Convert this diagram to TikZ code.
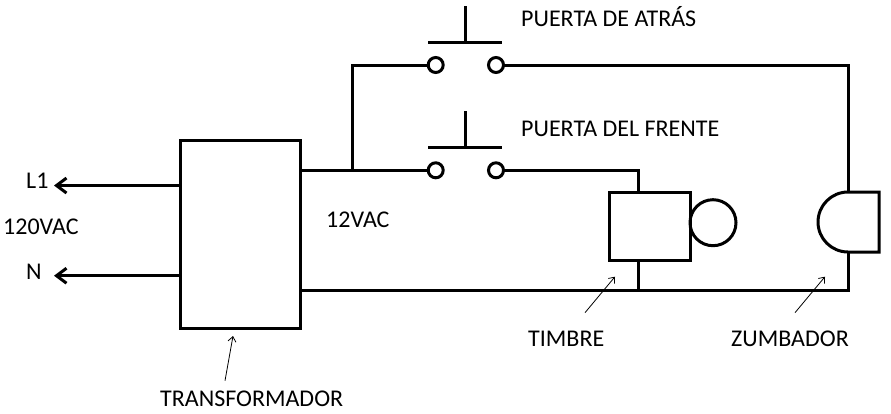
\documentclass[tikz,border=0pt]{standalone}
\usepackage{fontspec}
\setmainfont{Carlito}
\usetikzlibrary{positioning}
\usetikzlibrary{arrows.meta}
\tikzset{
    wire/.style={line width=3pt},
    box/.style={draw, line width=3pt, rectangle, outer sep=0pt, inner sep=0pt},
    contact/.style={draw, line width=3pt, circle, fill=white, minimum size=15pt, inner sep=0pt, outer sep=0pt},
    label/.style={inner sep=0pt, font=\fontsize{24pt}{28pt}\selectfont},
    pointer/.style={line width=0.8pt, -{Straight Barb[length=5pt,width=8pt]}},
    lead/.style={line width=3pt, -{Straight Barb[length=10pt,width=15pt]}}
}

\begin{document}
\begin{tikzpicture}[x=1pt,y=-1pt]

    \useasboundingbox (0,0) rectangle (891,413);

    % transformer with both sides
    \node[box, minimum width=120pt, minimum height=188pt] (trafo) at (240.5,234) {};
    \node[label, anchor=west] (l1) at (26,181) {L1};
    \node[label, anchor=west] (vin) at (3,227) {120VAC};
    \node[label, anchor=west] (n) at (26,272) {N};
    \node[label, anchor=west] (vout) at (326,220) {12VAC};
    \node[label, anchor=west] (ltrafo) at (160,399) {TRANSFORMADOR};

    \coordinate (l1end) at (54,185.5);
    \coordinate (nend) at (54,275.7);
    \draw[lead] (trafo.west |- l1end) -- (l1end);
    \draw[lead] (trafo.west |- nend) -- (nend);

    % ------------------

    % back door
    \node[contact] (ca) at (435.7,65) {};
    \node[contact, right = 45.3pt of ca] (cb) {};
    \coordinate (abarl) at (428,42.7);
    \coordinate (abarr) at (502,42.7);
    \coordinate (abar) at (465.5,42.7);
    \coordinate (atop) at (465.5,6);
    \draw[wire] (abarl) -- (abarr);
    \draw[wire] (atop) -- (abar);
    \node[label, anchor=west] (lback) at (521,17) {PUERTA DE ATRÁS};

    % front door
    \node[contact] (cc) at (435.7,170.3) {};
    \node[contact, right = 45.3pt of cc] (cd) {};
    \coordinate (cbarl) at (428,147.3);
    \coordinate (cbarr) at (502,147.3);
    \coordinate (cbar) at (465.5,147.3);
    \coordinate (ctop) at (465.5,111);
    \draw[wire] (cbarl) -- (cbarr);
    \draw[wire] (ctop) -- (cbar);
    \node[label, anchor=west] (lfront) at (521,129) {PUERTA DEL FRENTE};

    % ------------------

    % bell
    \node[box, minimum width=81pt, minimum height=68pt] (bell) at (649.5,226) {};
    \node[draw, line width=3pt, circle, minimum size=46pt, inner sep=0pt, outer sep=0pt] (gong) at (713,222.7) {};
    \node[label, anchor=west] (lbell) at (528,339) {TIMBRE};

    % buzzer
    \coordinate (bztop) at (848,192);
    \coordinate (bzbot) at (848,252);
    \draw[wire, line join=miter] (bzbot) arc[start angle=-90, end angle=-270, radius=30pt]
    -- (879,192) -- (879,252) -- cycle;
    \node[label, anchor=west] (lbuzz) at (731,339) {ZUMBADOR};

    % ------------------

    % wires
    \coordinate (tap) at (352,170.3);
    \coordinate (corner) at (848,65);
    \coordinate (bellbot) at (638,290);
    \coordinate (bzcorner) at (848,290);
    \draw[wire] (trafo.east |- tap) -- (tap) -- (cc);
    \draw[wire] (tap) |- (ca);
    \draw[wire] (cb) -- (corner) -- (bztop);
    \draw[wire] (cd) -| (bell.north -| bellbot);
    \draw[wire] (bell.south -| bellbot) -- (bellbot);
    \draw[wire, line join=miter] (trafo.east |- bellbot) -- (bzcorner) -- (bzbot);

    % pointers
    \coordinate (ptrafo) at (225,380.7);
    \coordinate (pbell) at (585,312.7);
    \coordinate (pbuzz) at (795,312.7);
    \draw[pointer] (ptrafo) -- (233,336);
    \draw[pointer] (pbell) -- (615,276.7);
    \draw[pointer] (pbuzz) -- (825,276.7);

\end{tikzpicture}
\end{document}
